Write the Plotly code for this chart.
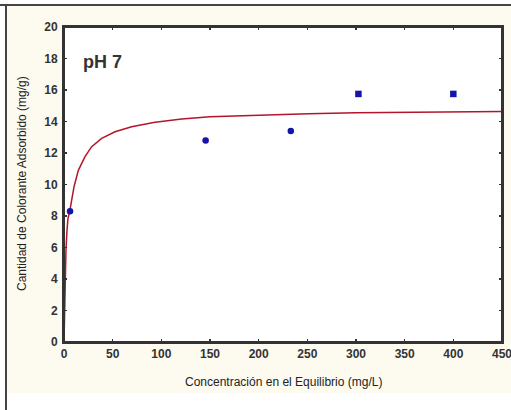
import plotly.graph_objects as go

# Data points
ce_points = [6.2, 145.5, 233, 302.5, 400]
qe_points = [8.3, 12.8, 13.4, 15.75, 15.75]
point_symbols = ["circle", "circle", "circle", "square", "square"]

# Fitted curve
ce_curve = [0, 0.3, 1, 2, 3, 4, 6.2, 10.3, 14.7, 21.6, 28.4, 38.7, 52.4, 69.5,
            93.5, 121, 150, 201, 251, 300, 381, 450]
qe_curve = [0, 1.3, 4.0, 5.8, 7.0, 7.8, 8.4, 9.86, 10.9, 11.77, 12.4, 12.93, 13.35,
            13.67, 13.95, 14.16, 14.3, 14.41, 14.5, 14.55, 14.6, 14.63]

x_ticks = [0, 50, 100, 150, 200, 250, 300, 350, 400, 450]
y_ticks = [0, 2, 4, 6, 8, 10, 12, 14, 16, 18, 20]

W, H = 511, 410
L, R, T, B = 64, 9, 27, 68
pw, ph = W - L - R, H - T - B

def px(x):
    return (x - L) / pw

def py(y):
    return (H - B - y) / ph

fig = go.Figure()
fig.add_trace(go.Scatter(x=ce_curve, y=qe_curve, mode="lines",
                         line=dict(color="#b3162b", width=1.5),
                         hoverinfo="skip", showlegend=False, cliponaxis=True))
fig.add_trace(go.Scatter(x=ce_points, y=qe_points, mode="markers",
                         marker=dict(color="#1414a8", size=6.5, symbol=point_symbols,
                                     line=dict(width=0)),
                         showlegend=False, cliponaxis=False))

tickfont = dict(family="Liberation Sans, Arial", size=12, color="#333333",
                weight="bold")
fig.update_xaxes(range=[0, 450], tickvals=x_ticks, ticks="inside", ticklen=3,
                 tickwidth=1.5, tickcolor="#333", showline=True, linecolor="#333",
                 linewidth=2, mirror="ticks", showgrid=False, zeroline=False,
                 tickfont=tickfont, fixedrange=True, ticklabeloverflow="allow")
fig.update_yaxes(range=[0, 20], tickvals=y_ticks, ticks="inside", ticklen=3,
                 tickwidth=1.5, tickcolor="#333", showline=True, linecolor="#333",
                 linewidth=2, mirror="ticks", showgrid=False, zeroline=False,
                 tickfont=tickfont, ticklabelstandoff=2, fixedrange=True)

fig.update_layout(
    width=W, height=H,
    margin=dict(l=L, r=R, t=T, b=B, autoexpand=False),
    paper_bgcolor="white", plot_bgcolor="white",
    font=dict(family="Liberation Sans, Arial"),
    shapes=[
        dict(type="rect", xref="paper", yref="paper", x0=px(7), x1=px(511),
             y0=py(393), y1=py(6), fillcolor="#fdfaf0", line=dict(width=0),
             layer="below"),
        dict(type="rect", xref="paper", yref="paper", x0=0, x1=1, y0=0, y1=1,
             fillcolor="white", line=dict(width=0), layer="below"),
        dict(type="rect", xref="paper", yref="paper", x0=0, x1=1, y0=0, y1=1,
             fillcolor="rgba(0,0,0,0)", line=dict(color="#333", width=2),
             layer="above"),
        dict(type="line", xref="paper", yref="paper", x0=px(0), x1=px(511),
             y0=py(5), y1=py(5), line=dict(color="#444", width=2), layer="below"),
        dict(type="line", xref="paper", yref="paper", x0=px(6), x1=px(6),
             y0=py(5), y1=py(410), line=dict(color="#444", width=2), layer="below"),
    ],
    annotations=[
        dict(text="<b>pH 7</b>", x=17.5, y=17.8, xref="x", yref="y",
             xanchor="left", yanchor="middle", showarrow=False,
             font=dict(size=18, color="#333333", family="Liberation Sans, Arial")),
        dict(text="Concentración en el Equilibrio (mg/L)", x=px(283), y=py(382),
             xref="paper", yref="paper", xanchor="center", yanchor="middle",
             showarrow=False, font=dict(size=12, color="#222222")),
        dict(text="Cantidad de Colorante Adsorbido (mg/g)", x=px(22), y=py(184),
             xref="paper", yref="paper", xanchor="center", yanchor="middle",
             textangle=-90, showarrow=False, font=dict(size=12, color="#222222")),
    ],
)

fig.write_html("out.html",
               config={"displayModeBar": False, "staticPlot": True},
               post_script="document.documentElement.style.overflow='hidden';"
                           "document.body.style.margin='0';"
                           "document.body.style.padding='0';"
                           "document.body.style.overflow='hidden';")
